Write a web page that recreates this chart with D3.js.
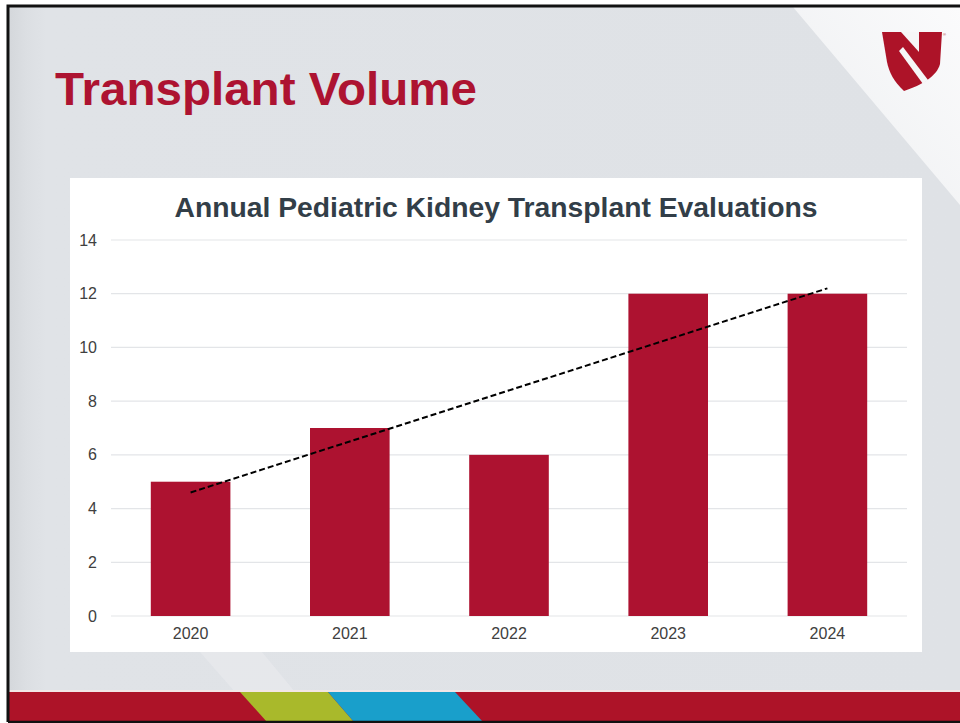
<!DOCTYPE html>
<html>
<head>
<meta charset="utf-8">
<script src="https://cdn.jsdelivr.net/npm/d3@7/dist/d3.min.js"></script>
<style>
  html, body { margin: 0; padding: 0; background: #ffffff; }
  svg { display: block; }
</style>
</head>
<body>
<svg id="chart" width="960" height="723"></svg>
<script>
// ---- data ----
const slideTitle = "Transplant Volume";
const chartTitle = "Annual Pediatric Kidney Transplant Evaluations";
const years = ["2020", "2021", "2022", "2023", "2024"];
const evaluations = [5, 7, 6, 12, 12];
const yTicks = [0, 2, 4, 6, 8, 10, 12, 14];

const svg = d3.select("#chart");
const defs = svg.append("defs");

// ---- slide background ----
const bgGrad = defs.append("linearGradient").attr("id", "bg").attr("x1", 0).attr("x2", 1).attr("y1", 0).attr("y2", 0);
bgGrad.append("stop").attr("offset", "0").attr("stop-color", "#d4d7db");
bgGrad.append("stop").attr("offset", "0.02").attr("stop-color", "#dcdfe3");
bgGrad.append("stop").attr("offset", "0.04").attr("stop-color", "#e0e3e7");
bgGrad.append("stop").attr("offset", "1").attr("stop-color", "#dfe2e6");
svg.append("rect").attr("x", 8).attr("y", 6).attr("width", 952).attr("height", 716).attr("fill", "url(#bg)");

// white diagonal top-right
const wGrad = defs.append("linearGradient").attr("id", "wg").attr("x1", 0).attr("x2", 1).attr("y1", 1).attr("y2", 0);
wGrad.append("stop").attr("offset", "0").attr("stop-color", "#eceef0");
wGrad.append("stop").attr("offset", "1").attr("stop-color", "#fbfbfc");
svg.append("path").attr("d", "M793,7 L960,7 L960,205 Z").attr("fill", "url(#wg)");

// light triangle lower-left
svg.append("path").attr("d", "M200,652 L262,652 L295,692 L235,692 Z").attr("fill", "#e7e9ec").attr("opacity", 0.8);

// bottom band
svg.append("rect").attr("x", 8).attr("y", 690).attr("width", 952).attr("height", 2).attr("fill", "#f2e6e6");
svg.append("rect").attr("x", 8).attr("y", 692).attr("width", 952).attr("height", 30).attr("fill", "#ad1328");
svg.append("path").attr("d", "M240,692 L328,692 L354,722 L267,722 Z").attr("fill", "#a9b92b");
svg.append("path").attr("d", "M328,692 L455,692 L483,722 L354,722 Z").attr("fill", "#199fcb");

// frame border
svg.append("path").attr("d", "M8,722 L8,6 L960,6").attr("fill", "none").attr("stroke", "#111").attr("stroke-width", 3);
svg.append("line").attr("x1", 8).attr("x2", 960).attr("y1", 722).attr("y2", 722).attr("stroke", "#111").attr("stroke-width", 2.5);

// logo
const logo = svg.append("g").attr("transform", "translate(882,32)");
logo.append("path").attr("d", "M0,0 L60,0 L58,32 C55,44 40,53 22,59 C12,50 7,40 5,30 Z").attr("fill", "#ad1328");
logo.append("path").attr("d", "M19,0 L37,0 L37,20 Z").attr("fill", "#f6f6f7");
logo.append("path").attr("d", "M17,19 L21,15 L46,48 L41,52 Z").attr("fill", "#f6f6f7");
logo.append("text").attr("x", 61).attr("y", 4).attr("font-size", 4).attr("fill", "#ad1328").attr("font-family", "Liberation Sans, Arial, sans-serif").text("®");

// slide title
svg.append("text")
  .attr("x", 55).attr("y", 105)
  .attr("font-family", "Liberation Sans, Arial, sans-serif")
  .attr("font-weight", "bold")
  .attr("font-size", 47)
  .attr("fill", "#ad1331")
  .attr("textLength", 422).attr("lengthAdjust", "spacingAndGlyphs")
  .text(slideTitle);

// ---- chart panel ----
svg.append("rect").attr("x", 70).attr("y", 178).attr("width", 852).attr("height", 474).attr("fill", "#ffffff");

svg.append("text")
  .attr("x", 496).attr("y", 217)
  .attr("text-anchor", "middle")
  .attr("font-family", "Liberation Sans, Arial, sans-serif")
  .attr("font-weight", "bold")
  .attr("font-size", 28)
  .attr("fill", "#323e48")
  .attr("textLength", 643).attr("lengthAdjust", "spacingAndGlyphs")
  .text(chartTitle);

const x = d3.scaleBand().domain(years).range([111, 907]).paddingInner(0.5).paddingOuter(0.25);
const y = d3.scaleLinear().domain([0, 14]).range([616, 240]);

// gridlines
svg.append("g").selectAll("line").data(yTicks).join("line")
  .attr("x1", 111).attr("x2", 907)
  .attr("y1", d => y(d)).attr("y2", d => y(d))
  .attr("stroke", "#e3e5e8").attr("stroke-width", 1.2);

// y axis labels
const yAxis = svg.append("g").attr("transform", "translate(111,0)")
  .call(d3.axisLeft(y).tickValues(yTicks).tickSize(0).tickPadding(14).tickFormat(d3.format("d")));
yAxis.select(".domain").remove();
yAxis.selectAll("text").attr("font-family", "Liberation Sans, Arial, sans-serif").attr("font-size", 16).attr("fill", "#404040");

// bars
svg.append("g").selectAll("rect").data(years).join("rect")
  .attr("x", d => x(d))
  .attr("width", x.bandwidth())
  .attr("y", (d, i) => y(evaluations[i]))
  .attr("height", (d, i) => y(0) - y(evaluations[i]))
  .attr("fill", "#ad1230");

// x axis labels
const xAxis = svg.append("g").attr("transform", "translate(0,616)")
  .call(d3.axisBottom(x).tickSize(0).tickPadding(12));
xAxis.select(".domain").remove();
xAxis.selectAll("text").attr("font-family", "Liberation Sans, Arial, sans-serif").attr("font-size", 16).attr("fill", "#404040");

// linear trendline (least squares on category index)
const n = evaluations.length;
const xs = evaluations.map((v, i) => i + 1);
const mx = d3.mean(xs), my = d3.mean(evaluations);
const slope = d3.sum(xs.map((xi, i) => (xi - mx) * (evaluations[i] - my))) / d3.sum(xs.map(xi => (xi - mx) ** 2));
const intercept = my - slope * mx;
const trend = [years[0], years[n - 1]].map((yr, k) => ({ yr, v: intercept + slope * (k === 0 ? 1 : n) }));
svg.append("path")
  .datum(trend)
  .attr("d", d3.line().x(d => x(d.yr) + x.bandwidth() / 2).y(d => y(d.v)))
  .attr("fill", "none").attr("stroke", "#000").attr("stroke-width", 2).attr("stroke-dasharray", "6,3");
</script>
</body>
</html>
